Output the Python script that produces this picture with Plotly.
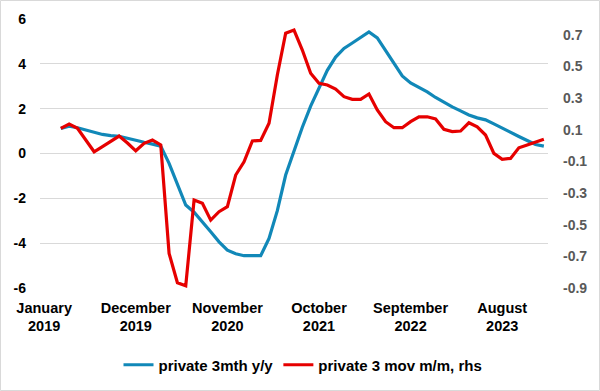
import plotly.graph_objects as go

months = ["January", "February", "March", "April", "May", "June", "July",
          "August", "September", "October", "November", "December"]
categories = [f"{months[i % 12]} {2019 + i // 12}" for i in range(61)]

private_3mth_yy = [None, None,
    1.12, 1.22, 1.15, 1.05, 0.93, 0.85, 0.80, 0.77, 0.68, 0.58, 0.50, 0.42, 0.33,
    -0.44, -1.35, -2.30, -2.62, -3.04, -3.49, -3.94, -4.31, -4.47, -4.56, -4.56,
    -4.56, -3.79, -2.55, -0.96, 0.14, 1.17, 2.11, 2.91, 3.71, 4.30, 4.69, 4.93,
    5.18, 5.42, 5.16, 4.58, 4.00, 3.46, 3.15, 2.95, 2.75, 2.50, 2.28, 2.08, 1.90,
    1.72, 1.59, 1.50, 1.32, 1.12, 0.93, 0.76, 0.58, 0.40, 0.33]

private_3mov_mm = [None, None,
    0.109, 0.136, 0.109, 0.034, -0.039, -0.006, 0.029, 0.060, 0.016, -0.033,
    0.014, 0.035, 0.004, -0.681, -0.867, -0.886, -0.344, -0.365, -0.471, -0.418,
    -0.386, -0.186, -0.102, 0.029, 0.033, 0.141, 0.446, 0.710, 0.730, 0.604,
    0.457, 0.394, 0.383, 0.357, 0.309, 0.292, 0.292, 0.326, 0.225, 0.151, 0.113,
    0.113, 0.151, 0.182, 0.182, 0.168, 0.103, 0.088, 0.092, 0.144, 0.119, 0.067,
    -0.049, -0.087, -0.081, -0.014, 0.004, 0.024, 0.040]

x_tick_idx = [0, 11, 22, 33, 44, 55]
x_tick_text = ["January<br>2019", "December<br>2019", "November<br>2020",
               "October<br>2021", "September<br>2022", "August<br>2023"]
y_left_ticks = [-6, -4, -2, 0, 2, 4, 6]
y_left_text = ["-6", "-4", "-2", "0", "2", "4", "6"]
y_right_ticks = [-0.9, -0.7, -0.5, -0.3, -0.1, 0.1, 0.3, 0.5, 0.7]
y_right_text = ["-0.9", "-0.7", "-0.5", "-0.3", "-0.1", "0.1", "0.3", "0.5", "0.7"]

xs = list(range(len(categories)))
font = "Liberation Sans"

fig = go.Figure()
fig.add_trace(go.Scatter(x=xs, y=private_3mth_yy, name="private 3mth y/y",
                         mode="lines", line=dict(color="#1188B8", width=3.2),
                         customdata=categories))
fig.add_trace(go.Scatter(x=xs, y=private_3mov_mm, name="private 3 mov m/m, rhs",
                         mode="lines", line=dict(color="#E60000", width=3.2),
                         yaxis="y2", customdata=categories))

W, H = 600, 391
ml, mr, mt, mb = 40, 52, 19, 103
pw, ph = W - ml - mr, H - mt - mb

fig.update_layout(
    width=W, height=H,
    margin=dict(l=ml, r=mr, t=mt, b=mb),
    paper_bgcolor="white", plot_bgcolor="white",
    font=dict(family=font, size=14, color="black"),
    xaxis=dict(range=[-0.5, 60.5], tickvals=x_tick_idx, ticktext=x_tick_text,
               showgrid=False, zeroline=False, showline=False, ticks="",
               tickfont=dict(family=font, size=14.5, color="black", weight="bold"),
               ticklabelstandoff=9),
    yaxis=dict(range=[-6, 6], tickvals=y_left_ticks, ticktext=y_left_text,
               showgrid=True, gridcolor="#D9D9D9", gridwidth=1, zeroline=False,
               showline=False, ticks="", ticklabelstandoff=13,
               tickfont=dict(family=font, size=14, color="black", weight="bold")),
    yaxis2=dict(range=[-0.9, 0.8], tickvals=y_right_ticks, ticktext=y_right_text,
                overlaying="y", side="right", showgrid=False, zeroline=False,
                showline=False, ticks="", ticklabelstandoff=14,
                tickfont=dict(family=font, size=14, color="#595959", weight="bold")),
    showlegend=True,
    legend=dict(orientation="h", xref="container", x=0.505, xanchor="center",
                yref="container", y=(H - 365) / H, yanchor="middle",
                font=dict(family=font, size=15, color="black", weight="bold"),
                itemwidth=30, bgcolor="rgba(0,0,0,0)"),
    shapes=[dict(type="rect", xref="paper", yref="paper",
                 x0=(0.5 - ml) / pw, x1=(W - 0.5 - ml) / pw,
                 y0=-(mb - 0.5) / ph, y1=1 + (mt - 0.5) / ph,
                 line=dict(color="#D9D9D9", width=1), layer="below")],
)

fig.write_html("out.html", config={"displayModeBar": False},
               post_script="document.body.style.margin='0';document.body.style.overflow='hidden';")
